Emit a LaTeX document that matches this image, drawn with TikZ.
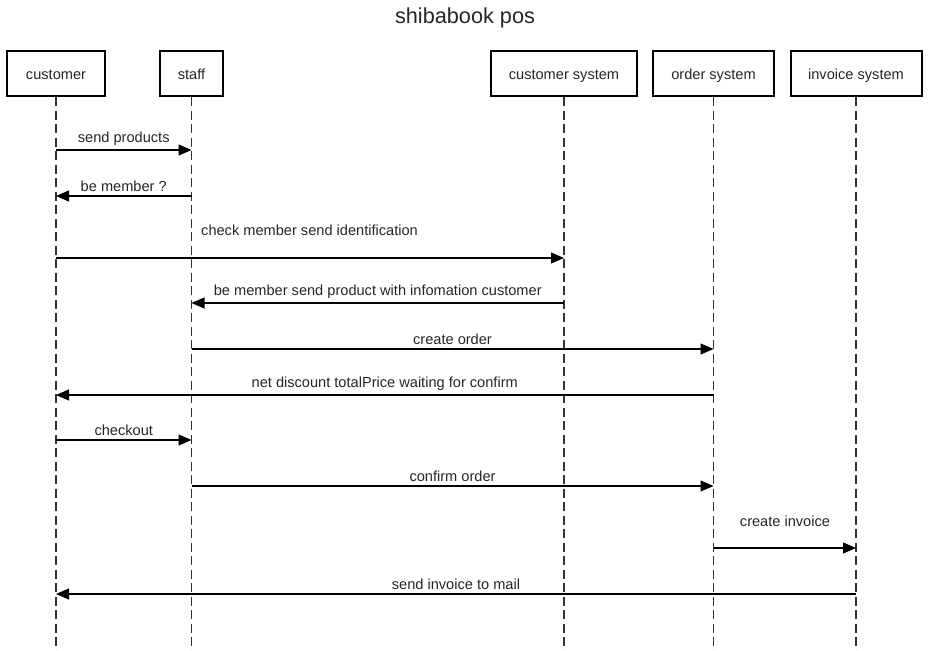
\documentclass[tikz,border=0pt]{standalone}
\usepackage{fontspec}
\setmainfont{Liberation Sans}
\usetikzlibrary{arrows.meta}
\begin{document}
\begin{tikzpicture}[x=1pt,y=-1pt,
  actor/.style={draw=black,line width=2pt,minimum height=45pt,inner sep=0pt,text height=12pt,text depth=0pt,font=\fontsize{14.6}{17}\selectfont,text=black!85},
  life/.style={draw=black!80,line width=1.5pt,dash pattern=on 9pt off 4.5pt},
  msg/.style={draw=black,line width=1.1pt,-{Triangle[length=13pt,width=11pt]}},
  lbl/.style={font=\fontsize{14.6}{17}\selectfont,text=black!85,inner sep=0pt}]
\useasboundingbox (0,0) rectangle (930,651);
\node[font=\fontsize{21.7}{25}\selectfont,text=black!85] (title) at (465,18) {shibabook pos};
\node[actor,minimum width=98pt] (cust) at (56,73.5) {customer};
\node[actor,minimum width=63pt] (staff) at (191.5,73.5) {staff};
\node[actor,minimum width=146pt] (csys) at (564,73.5) {customer system};
\node[actor,minimum width=121pt] (osys) at (713.5,73.5) {order system};
\node[actor,minimum width=131pt] (isys) at (856,73.5) {invoice system};
\coordinate (bottom) at (0,651);
\foreach \n in {cust,staff,csys,osys,isys}{
  \draw[life] (\n.south) -- (\n |- bottom);
}
\coordinate (r1) at (0,150);
\coordinate (r2) at (0,196);
\coordinate (r3) at (0,258);
\coordinate (r4) at (0,303);
\coordinate (r5) at (0,349);
\coordinate (r6) at (0,395);
\coordinate (r7) at (0,440);
\coordinate (r8) at (0,486);
\coordinate (r9) at (0,548);
\coordinate (r10) at (0,594);
\draw[msg] (cust |- r1) -- node[lbl,above=4pt] (l1) {send products} (staff |- r1);
\draw[msg] (staff |- r2) -- node[lbl,above=4pt] (l2) {be member ?} (cust |- r2);
\draw[msg] (cust |- r3) -- (csys |- r3);
\node[lbl,anchor=west] (l3) at (201,230) {check member send identification};
\draw[msg] (csys |- r4) -- node[lbl,above=4pt] (l4) {be member send product with infomation customer} (staff |- r4);
\draw[msg] (staff |- r5) -- node[lbl,above=4pt] (l5) {create order} (osys |- r5);
\draw[msg] (osys |- r6) -- node[lbl,above=4pt] (l6) {net discount totalPrice waiting for confirm} (cust |- r6);
\draw[msg] (cust |- r7) -- node[lbl,above=4pt] (l7) {checkout} (staff |- r7);
\draw[msg] (staff |- r8) -- node[lbl,above=4pt] (l8) {confirm order} (osys |- r8);
\draw[msg] (osys |- r9) -- (isys |- r9);
\node[lbl] (l9) at (785,521) {create invoice};
\draw[msg] (isys |- r10) -- node[lbl,above=4pt] (l10) {send invoice to mail} (cust |- r10);
\end{tikzpicture}
\end{document}
